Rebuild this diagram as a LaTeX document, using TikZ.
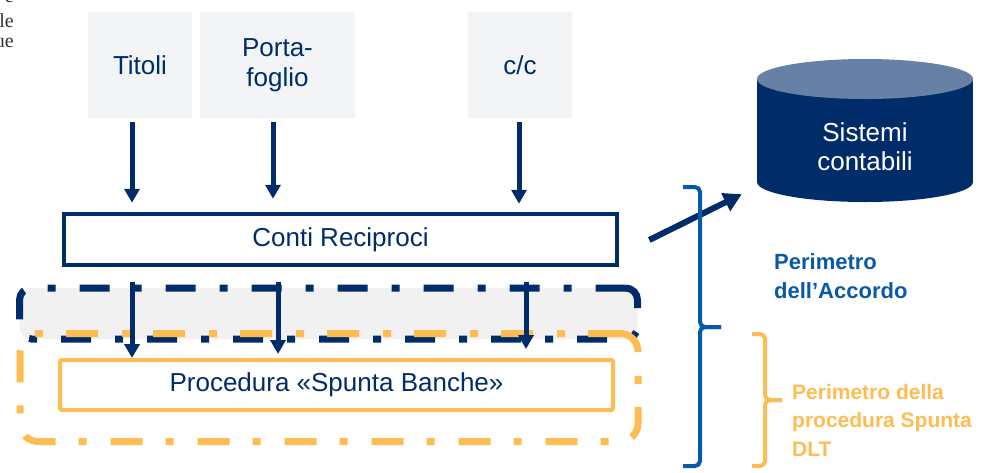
\documentclass[tikz,border=0pt]{standalone}
\usepackage{fontspec}
\setmainfont{Liberation Sans}
\newfontfamily\fragfont{Liberation Serif}
\usetikzlibrary{arrows.meta,calc}
\definecolor{navy}{RGB}{0,45,106}
\definecolor{cyltop}{RGB}{102,128,166}
\definecolor{srcgray}{RGB}{242,244,246}
\definecolor{bandgray}{RGB}{241,241,241}
\definecolor{orng}{RGB}{255,188,82}
\definecolor{accblue}{RGB}{8,90,168}
\begin{document}
\begin{tikzpicture}[x=1pt,y=-1pt,
  srcbox/.style={fill=srcgray,draw=none,inner sep=0pt,text=navy,align=center,
    font=\fontsize{26}{30}\selectfont},
  mainbox/.style={draw=navy,line width=4.5pt,fill=white,inner sep=0pt,text=navy,
    font=\fontsize{26}{30}\selectfont},
  procbox/.style={draw=orng,line width=4pt,fill=white,inner sep=0pt,text=navy,
    rounded corners=2pt,font=\fontsize{26}{30}\selectfont},
  arr/.style={draw=navy,line width=5pt,-{Triangle[width=15pt,length=14pt]}},
  bigarr/.style={draw=navy,line width=6pt,-{Triangle[width=19pt,length=18pt]}},
  navyband/.style={draw=navy,line width=7pt,fill=bandgray,rounded corners=12pt,
    dash pattern=on 30pt off 24pt on 8pt off 24pt,inner sep=0pt},
  orngband/.style={draw=orng,line width=7pt,rounded corners=18pt,
    dash pattern=on 32pt off 23pt on 8pt off 24pt,inner sep=0pt},
  lbl/.style={anchor=west,align=left,inner sep=0pt,
    font=\bfseries\fontsize{22}{28.5}\selectfont},
  frag/.style={anchor=east,inner sep=0pt,text={black!80},font=\fragfont\fontsize{20}{22}\selectfont}
]
\useasboundingbox (0,0) rectangle (983,472);

% cut-off fragments of neighbouring text
\node[frag] (f1) at (14,-2) {e};
\node[frag] (f2) at (14,21) {le};
\node[frag] (f3) at (14,43) {ue};

% perimeter bands
\node[navyband,minimum width=618pt,minimum height=51pt] (band) at (328.5,313.5) {};
\node[orngband,minimum width=618pt,minimum height=108pt] (spunta) at (329,387.5) {};

% source boxes
\node[srcbox,minimum width=104pt,minimum height=106pt] (titoli) at (140,65) {Titoli};
\node[srcbox,minimum width=155pt,minimum height=106pt] (porta) at (277.5,65) {Porta-\\foglio};
\node[srcbox,minimum width=104pt,minimum height=106pt] (cc) at (520,65) {c/c};

% main boxes
\node[mainbox,minimum width=553pt,minimum height=51pt] (conti) at (340.5,239.5) {Conti Reciproci};
\node[procbox,minimum width=553pt,minimum height=50pt] (proc) at (336.5,385) {Procedura «Spunta Banche»};

% cylinder
\node[minimum width=216pt,minimum height=144pt,inner sep=0pt] (cyl) at (865,130) {};
\fill[navy] (cyl.west |- 0,79) rectangle (cyl.east |- 0,182);
\fill[navy] (865,182) ellipse [x radius=108pt,y radius=20pt];
\fill[cyltop] (865,79) ellipse [x radius=108pt,y radius=20pt];
\node[text=white,align=center,font=\fontsize{26}{29}\selectfont] (cyltext) at (865,147) {Sistemi\\contabili};

% arrows from sources to Conti Reciproci
\draw[arr] ($(titoli.south)+(-8,4)$) -- ($(titoli.south |- conti.north)+(-8,-9)$);
\draw[arr] ($(porta.south)+(-4.5,4)$) -- ($(porta.south |- conti.north)+(-4.5,-13)$);
\draw[arr] ($(cc.south)+(-1,4)$) -- ($(cc.south |- conti.north)+(-1,-8)$);

% arrows from Conti Reciproci to Procedura
\draw[arr] ($(conti.south)+(-208.5,15)$) -- ($(conti.south |- proc.north)+(-208.5,0)$);
\draw[arr] ($(conti.south)+(-62.5,15)$) -- ($(conti.south |- proc.north)+(-62.5,-4)$);
\draw[arr] ($(conti.south)+(185.5,15)$) -- ($(conti.south |- proc.north)+(185.5,-9)$);

% arrow to accounting systems
\draw[bigarr] ($(conti.east)+(30,0.5)$) -- ($(cyl.south west)+(-15,-8)$);

% braces
\draw[accblue,line width=4pt,rounded corners=5pt]
  (683,187) -- (700,187) -- (700,327) -- (721,327);
\draw[accblue,line width=4pt,rounded corners=5pt]
  (721,327) -- (700,327) -- (700,466) -- (683,466);
\draw[orng,line width=4pt,rounded corners=5pt]
  (752,334) -- (765,334) -- (765,400) -- (782,400);
\draw[orng,line width=4pt,rounded corners=5pt]
  (782,400) -- (765,400) -- (765,466) -- (752,466);

% labels
\node[lbl,text=accblue] (acc) at (774,276) {Perimetro\\dell’Accordo};
\node[lbl,text=orng,font=\bfseries\fontsize{21}{28.5}\selectfont] (spl) at (792,420) {Perimetro della\\procedura Spunta\\DLT};
\end{tikzpicture}
\end{document}
